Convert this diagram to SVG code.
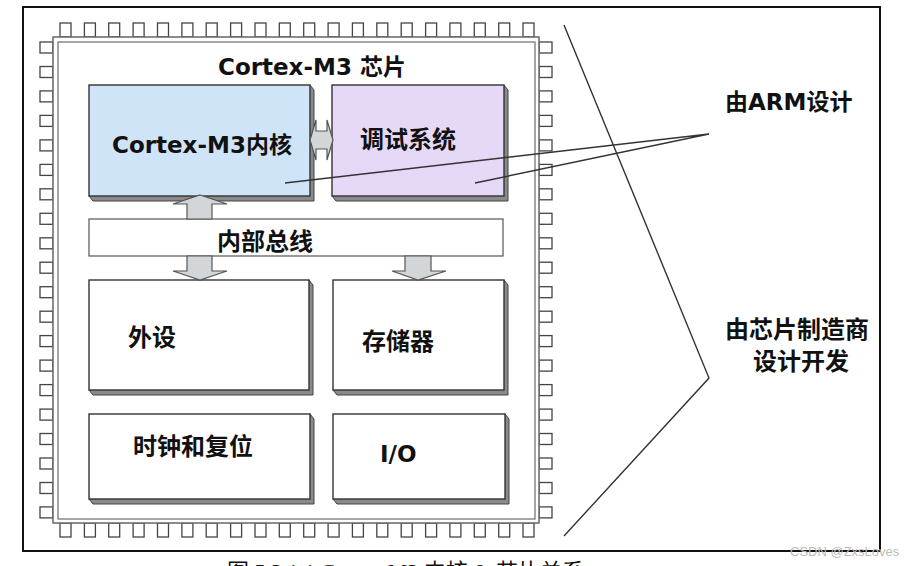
<svg xmlns="http://www.w3.org/2000/svg" xmlns:xlink="http://www.w3.org/1999/xlink" width="912" height="566" viewBox="0 0 912 566">
<style>
.t{font-family:"DejaVu Sans","Noto Sans CJK SC",sans-serif;font-weight:bold;fill:#111}
.c{font-family:"Noto Sans CJK SC",sans-serif;font-weight:bold;fill:#111;font-size:24px}
.pin{fill:#fff;stroke:#444;stroke-width:1.3}
.box{stroke:#333;stroke-width:1.4}
.bev{fill:#8a8a8a;stroke:#444;stroke-width:1}
.arr{fill:#d3d6d9;stroke:#555;stroke-width:1.2}
.ln{fill:none;stroke:#333;stroke-width:1.4}
</style>
<defs>
<rect id="pt" class="pin" width="11" height="14"/>
<rect id="pl" class="pin" width="13" height="11"/>
</defs>
<rect width="912" height="566" fill="#fff"/>
<rect x="23" y="7" width="857" height="544" fill="none" stroke="#111" stroke-width="2"/>
<g id="pins">
<g id="pins-top" transform="translate(0,23)">
<use xlink:href="#pt" x="60"/><use xlink:href="#pt" x="84.4"/><use xlink:href="#pt" x="108.7"/><use xlink:href="#pt" x="133.1"/><use xlink:href="#pt" x="157.5"/><use xlink:href="#pt" x="181.9"/><use xlink:href="#pt" x="206.2"/><use xlink:href="#pt" x="230.6"/><use xlink:href="#pt" x="255"/><use xlink:href="#pt" x="279.3"/><use xlink:href="#pt" x="303.7"/><use xlink:href="#pt" x="328.1"/><use xlink:href="#pt" x="352.4"/><use xlink:href="#pt" x="376.8"/><use xlink:href="#pt" x="401.2"/><use xlink:href="#pt" x="425.6"/><use xlink:href="#pt" x="449.9"/><use xlink:href="#pt" x="474.3"/><use xlink:href="#pt" x="498.7"/><use xlink:href="#pt" x="523"/>
</g>
<g id="pins-bottom" transform="translate(0,523)">
<use xlink:href="#pt" x="60"/><use xlink:href="#pt" x="84.4"/><use xlink:href="#pt" x="108.7"/><use xlink:href="#pt" x="133.1"/><use xlink:href="#pt" x="157.5"/><use xlink:href="#pt" x="181.9"/><use xlink:href="#pt" x="206.2"/><use xlink:href="#pt" x="230.6"/><use xlink:href="#pt" x="255"/><use xlink:href="#pt" x="279.3"/><use xlink:href="#pt" x="303.7"/><use xlink:href="#pt" x="328.1"/><use xlink:href="#pt" x="352.4"/><use xlink:href="#pt" x="376.8"/><use xlink:href="#pt" x="401.2"/><use xlink:href="#pt" x="425.6"/><use xlink:href="#pt" x="449.9"/><use xlink:href="#pt" x="474.3"/><use xlink:href="#pt" x="498.7"/><use xlink:href="#pt" x="523"/>
</g>
<g id="pins-left" transform="translate(40,0)">
<use xlink:href="#pl" y="42"/><use xlink:href="#pl" y="66.5"/><use xlink:href="#pl" y="90.9"/><use xlink:href="#pl" y="115.4"/><use xlink:href="#pl" y="139.9"/><use xlink:href="#pl" y="164.4"/><use xlink:href="#pl" y="188.8"/><use xlink:href="#pl" y="213.3"/><use xlink:href="#pl" y="237.8"/><use xlink:href="#pl" y="262.2"/><use xlink:href="#pl" y="286.7"/><use xlink:href="#pl" y="311.2"/><use xlink:href="#pl" y="335.6"/><use xlink:href="#pl" y="360.1"/><use xlink:href="#pl" y="384.6"/><use xlink:href="#pl" y="409.1"/><use xlink:href="#pl" y="433.5"/><use xlink:href="#pl" y="458"/><use xlink:href="#pl" y="482.5"/><use xlink:href="#pl" y="506.9"/>
</g>
<g id="pins-right" transform="translate(539,0)">
<use xlink:href="#pl" y="42"/><use xlink:href="#pl" y="66.5"/><use xlink:href="#pl" y="90.9"/><use xlink:href="#pl" y="115.4"/><use xlink:href="#pl" y="139.9"/><use xlink:href="#pl" y="164.4"/><use xlink:href="#pl" y="188.8"/><use xlink:href="#pl" y="213.3"/><use xlink:href="#pl" y="237.8"/><use xlink:href="#pl" y="262.2"/><use xlink:href="#pl" y="286.7"/><use xlink:href="#pl" y="311.2"/><use xlink:href="#pl" y="335.6"/><use xlink:href="#pl" y="360.1"/><use xlink:href="#pl" y="384.6"/><use xlink:href="#pl" y="409.1"/><use xlink:href="#pl" y="433.5"/><use xlink:href="#pl" y="458"/><use xlink:href="#pl" y="482.5"/><use xlink:href="#pl" y="506.9"/>
</g>
</g>
<g id="chip">
<rect x="53" y="37" width="486" height="486" fill="#fff" stroke="#666" stroke-width="1.5"/>
<rect x="58" y="42" width="477" height="477" fill="#fff" stroke="#777" stroke-width="1.3"/>
<text class="t" x="218" y="75" font-size="23">Cortex-M3 芯片</text>
</g>
<g id="core">
<polygon class="bev" points="310,85 314,90 314,201 93,201 89,196"/>
<rect class="box" x="89" y="85" width="221" height="111" fill="#d0e4f8"/>
<text class="t" x="112" y="153" font-size="23">Cortex-M3内核</text>
</g>
<g id="debug">
<polygon class="bev" points="504,85 508,90 508,201 336,201 332,196"/>
<rect class="box" x="332" y="85" width="172" height="111" fill="#e6d8f7"/>
<text class="c" x="360" y="148">调试系统</text>
</g>
<g id="bus">
<rect x="89" y="219" width="414" height="37" fill="#fff" stroke="#555" stroke-width="1.2"/>
<text class="c" x="217" y="250">内部总线</text>
</g>
<g id="periph">
<polygon class="bev" points="309,280 313,285 313,395 93,395 89,390"/>
<rect class="box" x="89" y="280" width="220" height="110" fill="#fff"/>
<text class="c" x="128" y="346">外设</text>
</g>
<g id="memory">
<polygon class="bev" points="504,280 508,285 508,395 337,395 333,390"/>
<rect class="box" x="333" y="280" width="171" height="110" fill="#fff"/>
<text class="c" x="362" y="350">存储器</text>
</g>
<g id="clock">
<polygon class="bev" points="310,414 314,419 314,504 93,504 89,499"/>
<rect class="box" x="89" y="414" width="221" height="85" fill="#fff"/>
<text class="c" x="133" y="455">时钟和复位</text>
</g>
<g id="io">
<polygon class="bev" points="505,414 509,419 509,504 337,504 333,499"/>
<rect class="box" x="333" y="414" width="172" height="85" fill="#fff"/>
<text class="t" x="380" y="462" font-size="23">I/O</text>
</g>
<g id="connectors">
<polygon class="arr" points="310,140 316,120 316,131 327,131 327,120 333,140 327,160 327,149 316,149 316,160"/>
<polygon class="arr" points="200,195 227,204 212,204 212,219 187,219 187,204 173,204"/>
<polygon class="arr" points="187,256 212,256 212,271 227,271 200,280 173,271 187,271"/>
<polygon class="arr" points="405,256 431,256 431,271 446,271 418,280 392,271 405,271"/>
<polyline class="ln" points="285,183 709,134 475,183"/>
<polyline class="ln" points="564,25 709,378 564,536"/>
</g>
<g id="labels">
<text class="t" x="725" y="110" font-size="23">由ARM设计</text>
<text class="c" x="725" y="338">由芯片制造商</text>
<text class="c" x="753" y="370">设计开发</text>
</g>
<text x="790" y="556" font-family="Liberation Sans, sans-serif" font-size="13" fill="#bbb">CSDN @ZxsLoves</text>
<text x="227" y="579" font-family="Liberation Serif, Noto Sans CJK SC, serif" font-size="22" fill="#111">图 5.3.1.1 Cortex-M3 内核 &amp; 芯片关系</text>
</svg>
